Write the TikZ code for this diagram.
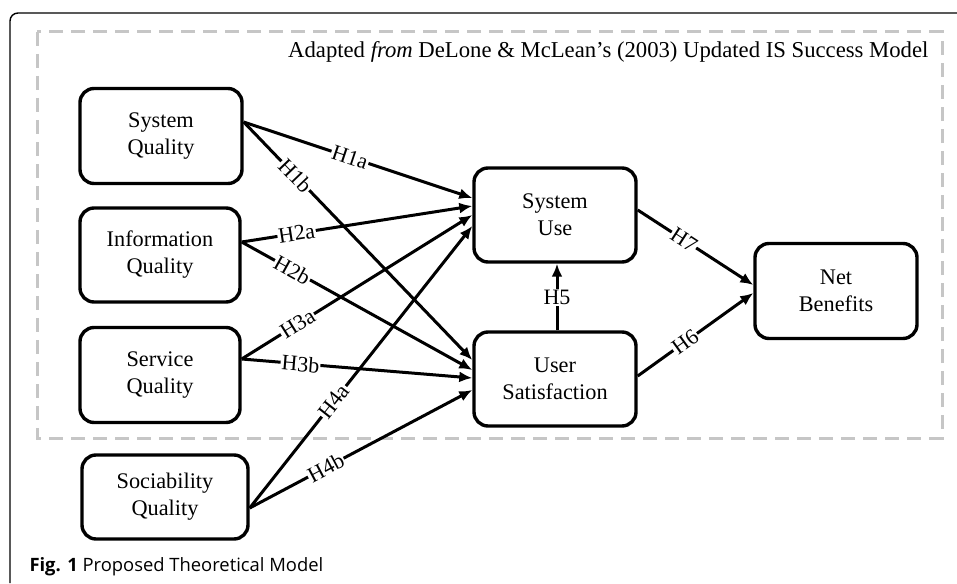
\documentclass[tikz,border=0pt]{standalone}
\usepackage{fontspec}
\setmainfont{Liberation Serif}
\newfontfamily\capfont{Open Sans}
\usetikzlibrary{arrows.meta,calc}
\begin{document}
\begin{tikzpicture}[x=1pt,y=-1pt,
  box/.style={draw,line width=3.4pt,rounded corners=14pt,align=center,font=\fontsize{22.3}{27}\selectfont,inner sep=0pt},
  link/.style={line width=3pt,-{Latex[length=13pt,width=11pt]}},
  lab/.style={sloped,fill=white,inner sep=1pt,font=\fontsize{22}{24}\selectfont}]
\useasboundingbox (0,0) rectangle (957,583);
\draw[line width=1.4pt,rounded corners=8pt] (957,13) -- (10,13) -- (10,583);
\draw[gray!45,line width=3pt,dash pattern=on 14pt off 8pt] (37,32) rectangle (942,438);
\node[anchor=east,font=\fontsize{22.7}{24}\selectfont] (title) at (932,52) {Adapted \textit{from} DeLone \& McLean's (2003) Updated IS Success Model};
\node[anchor=west,font=\capfont\fontsize{18.4}{20}\selectfont] (cap) at (26,567) {\textbf{Fig. 1} Proposed Theoretical Model};

\node[box,minimum width=162pt,minimum height=95pt] (sq) at (161,136) {System\\Quality};
\node[box,minimum width=160pt,minimum height=94pt] (iq) at (160,255) {Information\\Quality};
\node[box,minimum width=160pt,minimum height=95pt] (serq) at (160,375) {Service\\Quality};
\node[box,minimum width=166pt,minimum height=84pt] (socq) at (165,497) {Sociability\\Quality};
\node[box,minimum width=162pt,minimum height=94pt] (su) at (555,215) {System\\Use};
\node[box,minimum width=162pt,minimum height=94pt] (us) at (555,379) {User\\Satisfaction};
\node[box,minimum width=162pt,minimum height=95pt] (nb) at (836,291) {Net\\Benefits};

\draw[link] ([yshift=14pt]sq.east) -- node[lab,pos=0.465] {H1a} ([yshift=17pt]su.west);
\draw[link] ([yshift=14pt]sq.east) -- node[lab,pos=0.226] {H1b} ([yshift=19pt]us.west);
\draw[link] ([yshift=13pt]iq.east) -- node[lab,pos=0.238] {H2a} ([yshift=9pt]su.west);
\draw[link] ([yshift=13pt]iq.east) -- node[lab,pos=0.22] {H2b} ([yshift=9pt]us.west);
\draw[link] ([yshift=16pt]serq.east) -- node[lab,pos=0.242] {H3a} ([yshift=0pt]su.west);
\draw[link] ([yshift=16pt]serq.east) -- node[lab,pos=0.255] {H3b} ([yshift=1pt]us.west);
\draw[link] ([yshift=-11pt]socq.east) -- node[lab,pos=0.378] {H4a} ([yshift=-11pt]su.west);
\draw[link] ([yshift=-11pt]socq.east) -- node[lab,pos=0.342] {H4b} ([yshift=-11pt]us.west);
\draw[link] ([xshift=2pt]us.north) -- node[lab,pos=0.49,sloped=false] {H5} ([xshift=2pt]su.south);
\draw[link] ([yshift=5pt]su.east) -- node[lab,pos=0.40] {H7} ([yshift=6pt]nb.west);
\draw[link] ([yshift=3pt]us.east) -- node[lab,pos=0.41] {H6} ([yshift=-2pt]nb.west);
\end{tikzpicture}
\end{document}
